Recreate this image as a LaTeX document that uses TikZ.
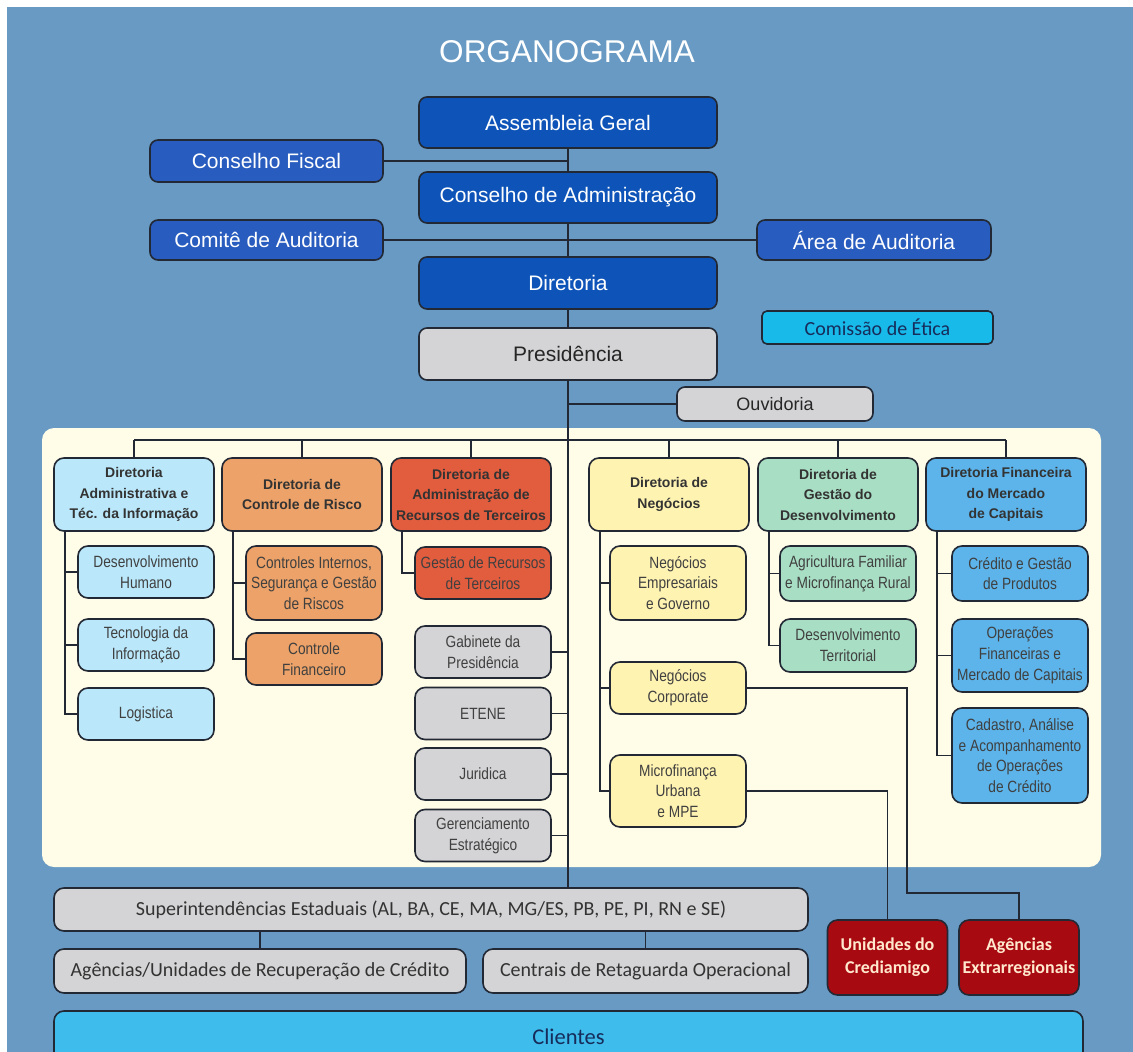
\documentclass[tikz,border=0pt]{standalone}
\usepackage{fontspec}
\setmainfont{Liberation Sans}
\newfontfamily\narrowfont[FakeStretch=0.84]{Liberation Sans}
\newfontfamily\myriadfont{Carlito}
\usetikzlibrary{positioning, calc, backgrounds}
\definecolor{bgBlue}{RGB}{104,154,196}
\definecolor{boardBlue}{RGB}{14,84,184}
\definecolor{sideBlue}{RGB}{40,92,190}
\definecolor{ethicsCyan}{RGB}{24,186,234}
\definecolor{presGray}{RGB}{212,212,214}
\definecolor{panelCream}{RGB}{255,252,232}
\definecolor{adminSky}{RGB}{186,232,250}
\definecolor{riskOrange}{RGB}{236,162,104}
\definecolor{thirdRed}{RGB}{226,92,62}
\definecolor{bizYellow}{RGB}{255,243,178}
\definecolor{devMint}{RGB}{168,222,196}
\definecolor{capBlue}{RGB}{92,180,234}
\definecolor{crediRed}{RGB}{168,10,18}
\definecolor{clientCyan}{RGB}{62,188,236}
\definecolor{edgeDark}{RGB}{34,40,52}
\definecolor{inkNavy}{RGB}{22,44,90}
\definecolor{crediInk}{RGB}{255,232,205}
\tikzset{
    % Base Box Style
    unit/.style={
        rectangle,
        rounded corners=8pt,
        draw=edgeDark,
        line width=1.6pt,
        align=center,
        inner sep=2pt
    },
    % Top Governance Styles
    boardBox/.style={unit, fill=boardBlue, text=white, minimum width=298pt, minimum height=51pt, font=\fontsize{21}{24}\selectfont},
    sideBox/.style={unit, fill=sideBlue, text=white, minimum width=233pt, minimum height=40pt, font=\fontsize{21}{24}\selectfont},
    ethicsBox/.style={unit, rounded corners=5pt, fill=ethicsCyan, text=inkNavy, minimum width=231pt, minimum height=33pt, font=\myriadfont\fontsize{20}{22}\selectfont},
    presBox/.style={unit, fill=presGray, text=black!85, minimum width=298pt, minimum height=52pt, font=\fontsize{21}{24}\selectfont},
    % Directorate Styles
    headBox/.style={unit, rounded corners=10pt, minimum width=160pt, minimum height=73pt, text=black!80, font=\bfseries\fontsize{14}{20.5}\selectfont},
    subBox/.style={unit, rounded corners=10pt, minimum width=136pt, minimum height=52pt, text=black!75, font=\narrowfont\fontsize{16.3}{20.7}\selectfont},
    % Network Styles
    stateBox/.style={unit, rounded corners=10pt, fill=presGray, text=black!80, minimum height=43pt, font=\myriadfont\fontsize{20}{22}\selectfont},
    crediBox/.style={unit, rounded corners=10pt, fill=crediRed, text=crediInk, minimum width=120pt, minimum height=75pt, font=\myriadfont\bfseries\fontsize{18}{22.7}\selectfont},
    % Connector Style
    link/.style={draw=edgeDark, line width=1.5pt}
}

\begin{document}
\begin{tikzpicture}[x=1pt, y=-1pt]

    \useasboundingbox (0,0) rectangle (1133,1052);

    % --- TITLE ---
    \node (title) at (567,52) [text=white, font=\fontsize{31.5}{34}\selectfont] {ORGANOGRAMA};

    % --- GOVERNANCE (Top) ---
    \node (assembleia) at (568,122.5) [boardBox] {Assembleia Geral};
    \node (conselho) at (568,197.5) [boardBox] {Conselho de Administração};
    \node (diretoria) at (568,283) [boardBox, minimum height=52pt] {Diretoria};
    \node (presid) at (568,354) [presBox] {Presidência};

    \node (fiscal) at (266.5,161) [sideBox, minimum height=42pt] {Conselho Fiscal};
    \node (comite) at (266.5,240) [sideBox] {Comitê de Auditoria};
    \node (areaAud) at (874,240) [sideBox, minimum width=234pt] {Área de Auditoria};
    \node (etica) at (877.5,327.5) [ethicsBox] {Comissão de Ética};
    \node (ouvid) at (775,404) [presBox, minimum width=196pt, minimum height=34pt, font=\fontsize{18}{20}\selectfont] {Ouvidoria};

    % --- DIRECTORATES ---
    \node (dAdm) at (134,494.5) [headBox, fill=adminSky] {Diretoria\\Administrativa e\\Téc. da Informação};
    \node (dRisk) at (302,494.5) [headBox, fill=riskOrange] {Diretoria de\\Controle de Risco};
    \node (dThird) at (471,494.5) [headBox, fill=thirdRed] {Diretoria de\\Administração de\\Recursos de Terceiros};
    \node (dBiz) at (669,494.5) [headBox, fill=bizYellow] {Diretoria de\\Negócios};
    \node (dDev) at (838,494.5) [headBox, fill=devMint] {Diretoria de\\Gestão do\\Desenvolvimento};
    \node (dCap) at (1006,494.5) [headBox, fill=capBlue] {Diretoria Financeira\\do Mercado\\de Capitais};

    % Administrative units
    \node (hr) at (146,572) [subBox, fill=adminSky] {Desenvolvimento\\Humano};
    \node (it) at (146,645) [subBox, fill=adminSky] {Tecnologia da\\Informação};
    \node (logi) at (146,714) [subBox, fill=adminSky] {Logistica};

    % Risk units
    \node (ctrlInt) at (314,583) [subBox, fill=riskOrange, minimum height=74pt] {Controles Internos,\\Segurança e Gestão\\de Riscos};
    \node (ctrlFin) at (314,659) [subBox, fill=riskOrange] {Controle\\Financeiro};

    % Third-party resources
    \node (thirdRes) at (483,573) [subBox, fill=thirdRed] {Gestão de Recursos\\de Terceiros};

    % Presidency staff
    \node (gabinete) at (483,652) [subBox, fill=presGray] {Gabinete da\\Presidência};
    \node (etene) at (483,713.5) [subBox, fill=presGray] {ETENE};
    \node (juridica) at (483,774) [subBox, fill=presGray] {Juridica};
    \node (gerenc) at (483,835.5) [subBox, fill=presGray] {Gerenciamento\\Estratégico};

    % Business units
    \node (bizEmp) at (678,583) [subBox, fill=bizYellow, minimum height=74pt] {Negócios\\Empresariais\\e Governo};
    \node (bizCorp) at (678,688) [subBox, fill=bizYellow] {Negócios\\Corporate};
    \node (microUrb) at (678,791) [subBox, fill=bizYellow, minimum height=72pt] {Microfinança\\Urbana\\e MPE};

    % Development units
    \node (agriFam) at (848,573.5) [subBox, fill=devMint, minimum height=55pt] {Agricultura Familiar\\e Microfinança Rural};
    \node (devTerr) at (848,645.5) [subBox, fill=devMint, minimum height=53pt] {Desenvolvimento\\Territorial};

    % Capital market units
    \node (credGest) at (1020,573.5) [subBox, fill=capBlue, minimum height=55pt] {Crédito e Gestão\\de Produtos};
    \node (opFin) at (1020,655.5) [subBox, fill=capBlue, minimum height=73pt] {Operações\\Financeiras e\\Mercado de Capitais};
    \node (cadastro) at (1020,755.5) [subBox, fill=capBlue, minimum height=95pt] {Cadastro, Análise\\e Acompanhamento\\de Operações\\de Crédito};

    % --- NETWORK (Bottom) ---
    \node (superEst) at (431,909.5) [stateBox, minimum width=754pt] {Superintendências Estaduais (AL, BA, CE, MA, MG/ES, PB, PE, PI, RN e SE)};
    \node (agRec) at (260,971) [stateBox, minimum width=412pt, minimum height=44pt] {Agências/Unidades de Recuperação de Crédito};
    \node (centrais) at (645.5,971) [stateBox, minimum width=325pt, minimum height=44pt] {Centrais de Retaguarda Operacional};
    \node (crediamigo) at (887.5,957.5) [crediBox] {Unidades do\\Crediamigo};
    \node (extraReg) at (1019,957.5) [crediBox] {Agências\\Extrarregionais};

    \begin{scope}
        \clip (0,0) rectangle (1133,1052);
        \node (clientes) at (568.5,1037) [unit, rounded corners=10pt, fill=clientCyan, text=inkNavy, minimum width=1029pt, minimum height=52pt, font=\myriadfont\fontsize{22.5}{24}\selectfont] {Clientes};
    \end{scope}

    % --- Connectors ---
    \draw [link] (assembleia) -- (conselho);
    \draw [link] (conselho) -- (diretoria);
    \draw [link] (diretoria) -- (presid);
    \draw [link] (presid.south) -- (presid.south |- superEst.north);
    \draw [link] (fiscal.east) -- (fiscal.east -| assembleia.south);
    \draw [link] (comite) -- (areaAud);
    \draw [link] (ouvid.west) -- (ouvid.west -| presid.south);

    % bus to the directorates
    \coordinate (busMid) at (568,440);
    \draw [link] (dAdm.north |- busMid) -- (dCap.north |- busMid);
    \foreach \dir in {dAdm, dRisk, dThird, dBiz, dDev, dCap}
        \draw [link] (\dir.north) -- (\dir.north |- busMid);

    % spines to the units
    \foreach \dir/\sub in {dAdm/hr, dAdm/it, dAdm/logi, dRisk/ctrlInt, dRisk/ctrlFin, dThird/thirdRes,
        dBiz/bizEmp, dBiz/bizCorp, dBiz/microUrb, dDev/agriFam, dDev/devTerr,
        dCap/credGest, dCap/opFin, dCap/cadastro}
        \draw [link] ($(\dir.south west)+(12,0)$) |- (\sub.west);

    \foreach \staff in {gabinete, etene, juridica, gerenc}
        \draw [link] (\staff.east) -- (\staff.east -| presid.south);

    \draw [link] (agRec.north) -- (agRec.north |- superEst.south);
    \draw [link] (centrais.north) -- (centrais.north |- superEst.south);
    \draw [link] (microUrb.east) -| (crediamigo.north);
    \coordinate (bendExtra) at (907,893);
    \draw [link] (bizCorp.east) -| (bendExtra) -| (extraReg.north);

    % --- Background ---
    \begin{scope}[on background layer]
        \fill [white] (0,0) rectangle (1133,1052);
        \fill [bgBlue] (7,7) rectangle (1133,1052);
        \fill [panelCream, rounded corners=12pt] (42,428) rectangle (1101,867);
    \end{scope}

\end{tikzpicture}
\end{document}
